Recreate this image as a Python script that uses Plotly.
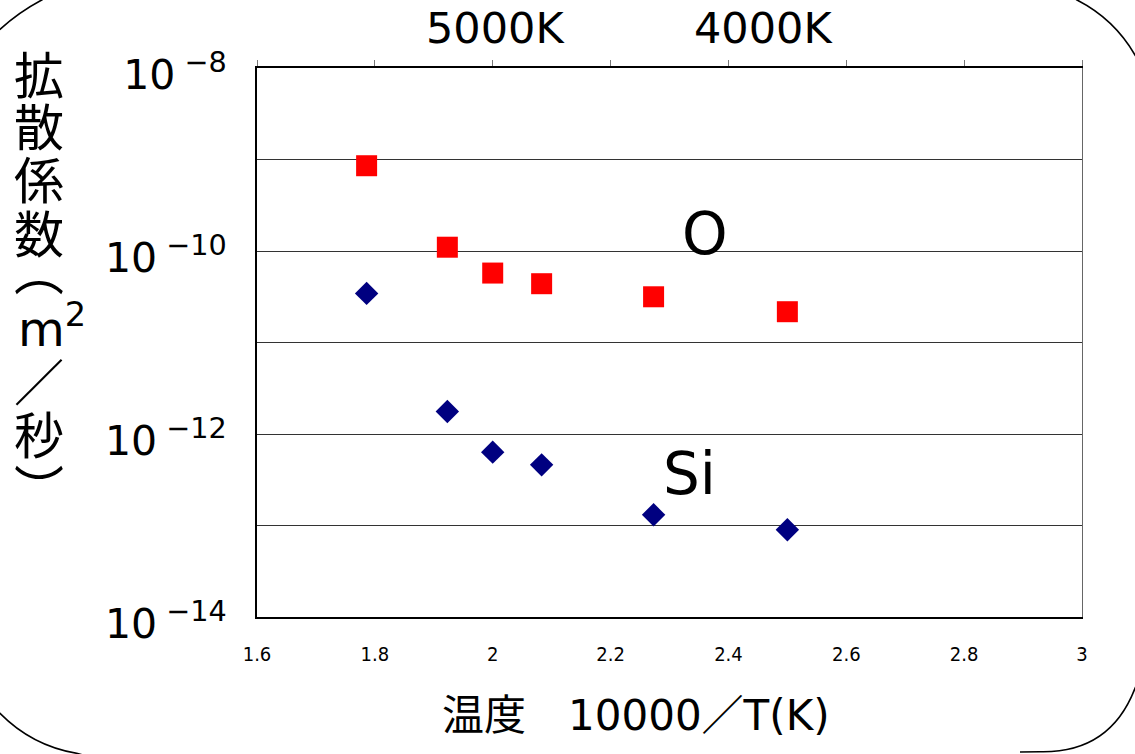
import plotly.graph_objects as go

# ---- data ----
inv_T = [1.786, 1.923, 2.0, 2.083, 2.273, 2.5]          # 10000/T(K)
D_O = [8.55e-10, 1.10e-10, 5.74e-11, 4.39e-11, 3.16e-11, 2.17e-11]
D_Si = [3.44e-11, 1.76e-12, 6.33e-13, 4.60e-13, 1.31e-13, 8.97e-14]

x_ticks = [1.6, 1.8, 2.0, 2.2, 2.4, 2.6, 2.8, 3.0]
x_ticktext = ["1.6", "1.8", "2", "2.2", "2.4", "2.6", "2.8", "3"]
y_ticks = [1e-14, 1e-13, 1e-12, 1e-11, 1e-10, 1e-9, 1e-8]
y_ticktext = ["10<sup> −14</sup>", "", "10<sup> −12</sup>", "", "10<sup> −10</sup>", "", "10<sup> −8</sup>"]
top_labels = ["5000K", "4000K"]
top_label_x = [2.005, 2.46]
series_names = ["O", "Si"]
series_label_pos = [(2.36, -9.815), (2.334, -12.436)]
y_title_chars = ["拡", "散", "係", "数", "︵", "m<sup>2</sup>", "／", "秒", "︶"]
x_title = "温度　10000／T(K)"

W, H = 1135, 754
L, R, T, B = 257, 53, 68, 137


def px(X):
    return (X - L) / (W - L - R)


def py(Y):
    return (H - B - Y) / (H - T - B)


fig = go.Figure()
fig.add_trace(go.Scatter(x=inv_T, y=D_O, mode="markers", name="O",
                         marker=dict(symbol="square", size=21, color="#FF0000",
                                     line=dict(width=0))))
fig.add_trace(go.Scatter(x=inv_T, y=D_Si, mode="markers", name="Si",
                         marker=dict(symbol="diamond", size=18, color="#000080",
                                     line=dict(width=0))))
# invisible carriers so the top and right frame axes are drawn
fig.add_trace(go.Scatter(x=inv_T, y=D_O, mode="markers", xaxis="x2", yaxis="y",
                         marker=dict(opacity=0), hoverinfo="skip", showlegend=False))
fig.add_trace(go.Scatter(x=inv_T, y=D_O, mode="markers", xaxis="x", yaxis="y2",
                         marker=dict(opacity=0), hoverinfo="skip", showlegend=False))

cjk = "DejaVu Sans, Noto Sans CJK JP"

annotations = []
for txt, xv in zip(top_labels, top_label_x):
    annotations.append(dict(text=txt, x=xv, xref="x", y=py(28), yref="paper",
                            showarrow=False, xanchor="center", yanchor="middle",
                            font=dict(family="DejaVu Sans", size=43, color="black")))
for name, (xv, yv) in zip(series_names, series_label_pos):
    annotations.append(dict(text=name, x=xv, y=yv, xref="x", yref="y",
                            showarrow=False, xanchor="center", yanchor="middle",
                            font=dict(family="DejaVu Sans", size=58, color="black")))
y_title_y = [72, 124, 177, 231, 268, 334, 379, 432, 486]
for ch, yy in zip(y_title_chars, y_title_y):
    if ch.startswith("m"):
        annotations.append(dict(text=ch, x=px(16), y=py(yy - 8), xref="paper", yref="paper",
                                showarrow=False, xanchor="left", yanchor="middle",
                                font=dict(family="DejaVu Sans", size=48, color="black")))
    else:
        annotations.append(dict(text=ch, x=px(39), y=py(yy), xref="paper", yref="paper",
                                showarrow=False, xanchor="center", yanchor="middle",
                                font=dict(family="Noto Sans CJK JP", size=50, color="black")))
annotations.append(dict(text=x_title, x=px(636), y=py(715), xref="paper", yref="paper",
                        showarrow=False, xanchor="center", yanchor="middle",
                        font=dict(family=cjk, size=42, color="black")))

# rounded outer frame corners (pixel coordinates converted to paper)
corners = [
    [(-5, 33), (0, 29.3), (19, 12), (41.7, 0), (48, -4)],
    [(1070, -5), (1077, 0), (1114, 18.8), (1135, 55), (1139, 62)],
    [(-5, 709), (0, 713.3), (31.9, 745.7), (76.7, 753.3), (90, 757)],
    [(1139, 680), (1135, 688.3), (1110, 753.3), (1040, 751.7), (1020, 752)],
]
shapes = []
for c in corners:
    p = [(px(a), py(b)) for a, b in c]
    path = (f"M {p[0][0]},{p[0][1]} L {p[1][0]},{p[1][1]} "
            f"Q {p[2][0]},{p[2][1]} {p[3][0]},{p[3][1]} L {p[4][0]},{p[4][1]}")
    shapes.append(dict(type="path", path=path, xref="paper", yref="paper",
                       line=dict(color="black", width=1.6), layer="above"))

fig.update_layout(
    width=W, height=H,
    margin=dict(l=L, r=R, t=T, b=B, pad=0),
    paper_bgcolor="white", plot_bgcolor="white",
    showlegend=False,
    xaxis=dict(range=[1.6, 3.0], tickvals=x_ticks, ticktext=x_ticktext,
               showgrid=False, zeroline=False, showline=True, linecolor="black",
               linewidth=2, ticks="", ticklabelstandoff=18,
               tickfont=dict(family="Liberation Sans Narrow, DejaVu Sans Condensed, Liberation Sans",
                             size=20, color="black")),
    xaxis2=dict(range=[1.6, 3.0], overlaying="x", side="top", anchor="y",
                tickvals=x_ticks, showticklabels=False, ticks="outside",
                ticklen=6, tickwidth=1, tickcolor="#777", showgrid=False,
                zeroline=False, showline=True, linecolor="black", linewidth=2),
    yaxis=dict(type="log", range=[-14, -8], tickvals=y_ticks, ticktext=y_ticktext,
               showgrid=True, gridcolor="#333", gridwidth=1, zeroline=False,
               showline=True, linecolor="black", linewidth=2, ticks="",
               ticklabelstandoff=20, ticklabelshift=7,
               tickfont=dict(family="DejaVu Sans", size=41, color="black")),
    yaxis2=dict(type="log", range=[-14, -8], overlaying="y", side="right", anchor="x",
                showticklabels=False, ticks="", showgrid=False, zeroline=False,
                showline=True, linecolor="#666", linewidth=1),
    annotations=annotations,
    shapes=shapes,
)

fig.write_html("out.html")
